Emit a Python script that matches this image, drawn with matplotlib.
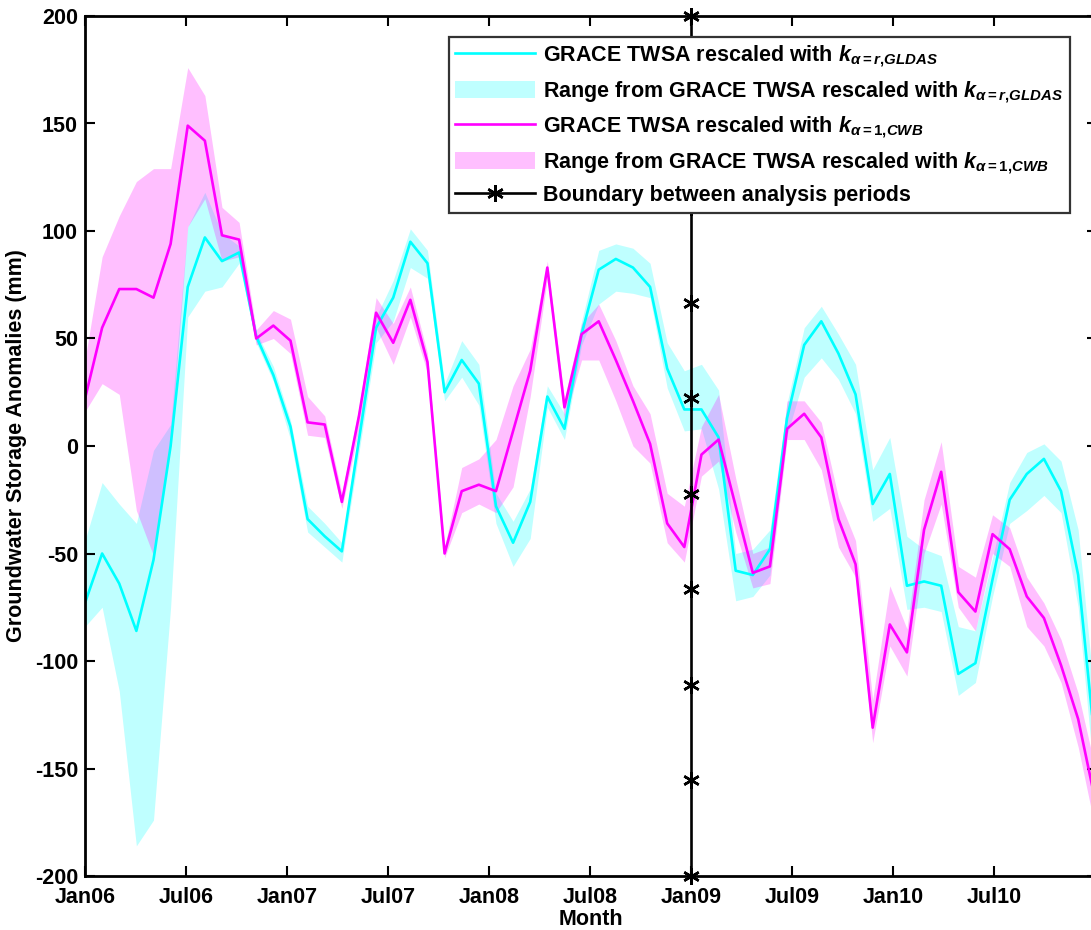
import numpy as np
import matplotlib.pyplot as plt

plt.rcParams['font.family'] = ['Liberation Sans', 'DejaVu Sans']
plt.rcParams['font.weight'] = 'bold'
plt.rcParams['axes.unicode_minus'] = False
plt.rcParams['mathtext.fontset'] = 'custom'
plt.rcParams['mathtext.it'] = 'Liberation Sans:bold:italic'
plt.rcParams['mathtext.rm'] = 'Liberation Sans:bold'
plt.rcParams['mathtext.bf'] = 'Liberation Sans:bold'

#%% data (monthly, Jan06 onwards)
tick_labels = ['Jan06', 'Jul06', 'Jan07', 'Jul07', 'Jan08',
               'Jul08', 'Jan09', 'Jul09', 'Jan10', 'Jul10']

gldas = [-73, -50, -64, -86, -53, 0, 74, 97, 86, 90,
         51, 33, 9, -34, -42, -49, 3, 55, 69, 95,
         85, 25, 40, 29, -28, -45, -26, 23, 8, 52,
         82, 87, 83, 74, 36, 17, 17, 4, -58, -60,
         -48, 13, 47, 58, 43, 24, -27, -13, -65, -63,
         -65, -106, -101, -62, -25, -13, -6, -21, -60, -140]
gldas_hi = [-44, -17, -27, -36, -2, 10, 102, 118, 99, 93,
            53, 37, 12, -28, -36, -45, 8, 60, 77, 101,
            91, 29, 49, 38, -22, -35, -20, 28, 15, 58,
            91, 94, 92, 85, 48, 35, 38, 26, -50, -48,
            -39, 20, 55, 65, 52, 38, -11, 4, -42, -48,
            -51, -84, -86, -52, -17, -3, 1, -7, -39, -120]
gldas_lo = [-84, -75, -114, -186, -174, -75, 60, 72, 74, 85,
            48, 30, 3, -40, -47, -54, -3, 48, 58, 83,
            78, 21, 32, 19, -36, -56, -43, 18, 3, 47,
            66, 72, 71, 69, 27, 7, 8, -20, -72, -70,
            -60, 5, 32, 41, 31, 15, -35, -29, -76, -75,
            -77, -116, -110, -70, -36, -30, -23, -31, -75, -160]

cwb = [22, 55, 73, 73, 69, 94, 149, 142, 98, 96,
       50, 56, 49, 11, 10, -26, 14, 62, 48, 68,
       39, -50, -21, -18, -21, 7, 35, 83, 18, 52,
       58, 40, 21, 1, -36, -47, -4, 3, -28, -59,
       -56, 8, 15, 4, -34, -55, -131, -83, -96, -39,
       -12, -68, -77, -41, -48, -70, -80, -102, -127, -165]
cwb_hi = [40, 88, 107, 123, 129, 129, 176, 163, 111, 104,
          54, 63, 59, 23, 14, -22, 18, 69, 57, 74,
          43, -47, -10, -6, 3, 28, 45, 86, 22, 57,
          66, 49, 28, 15, -22, -28, 9, 24, -15, -50,
          -47, 21, 21, 11, -24, -44, -118, -65, -85, -25,
          2, -56, -61, -32, -38, -61, -73, -90, -115, -150]
cwb_lo = [16, 29, 24, -30, -51, 0, 102, 115, 86, 88,
          47, 50, 43, 5, 4, -29, 8, 55, 38, 60,
          34, -52, -31, -27, -31, -19, 23, 78, 12, 40,
          40, 21, 0, -8, -45, -54, -14, -7, -40, -66,
          -64, 3, 3, -11, -47, -61, -138, -93, -107, -50,
          -27, -75, -86, -50, -56, -84, -93, -110, -140, -178]

tick_step = 5.9          # axis units per half year
boundary_x = 6 * tick_step
boundary_y = np.linspace(-200, 200, 10)

#%%
t = np.arange(len(gldas))

fig = plt.figure(figsize=(10.91, 9.30), dpi=100)
ax = fig.add_axes([85/1091, 54/930, 1012/1091, 860/930])

ax.fill_between(t, gldas_lo, gldas_hi, color='#00ffff', alpha=0.25, lw=0,
                label=r'Range from GRACE TWSA rescaled with $k_{\alpha=r{,}GLDAS}$', zorder=1)
ax.fill_between(t, cwb_lo, cwb_hi, color='#ff00ff', alpha=0.25, lw=0,
                label=r'Range from GRACE TWSA rescaled with $k_{\alpha=1{,}CWB}$', zorder=1)
ax.plot(t, gldas, color='#00ffff', lw=1.9,
        label=r'GRACE TWSA rescaled with $k_{\alpha=r{,}GLDAS}$', zorder=2)
ax.plot(t, cwb, color='#ff00ff', lw=1.9,
        label=r'GRACE TWSA rescaled with $k_{\alpha=1{,}CWB}$', zorder=2)
ax.plot(np.full(len(boundary_y), boundary_x), boundary_y, color='k', lw=1.9,
        marker=(6, 2, 0), ms=12, mew=1.8, clip_on=False,
        label='Boundary between analysis periods', zorder=3)

ax.set_xlim(0, 59.1)
ax.set_ylim(-200, 200)
ax.set_xticks(np.arange(len(tick_labels)) * tick_step)
ax.set_xticklabels(tick_labels)
ax.set_yticks(np.arange(-200, 201, 50))

ax.tick_params(direction='in', length=7, width=1.5, top=True, right=True,
               labelsize=15.5)
ax.tick_params(axis='y', pad=5)
ax.tick_params(axis='x', pad=8)
for s in ax.spines.values():
    s.set_linewidth(2)

ax.set_xlabel('Month', fontsize=15.5, fontweight='bold')
ax.set_ylabel('Groundwater Storage Anomalies (mm)', fontsize=15.5, fontweight='bold')
ax.xaxis.set_label_coords(0.5, -0.038)
ax.yaxis.set_label_coords(-0.057, 0.5)

h, l = ax.get_legend_handles_labels()
order = [2, 0, 3, 1, 4]
leg = ax.legend([h[i] for i in order], [l[i] for i in order],
                loc='upper left', bbox_to_anchor=(0.3597, 0.9756), borderaxespad=0,
                fontsize=15.5, handlelength=3.7, handleheight=0.85, handletextpad=0.35,
                labelspacing=0.45, fancybox=False, framealpha=1, borderpad=0.3)
leg.get_frame().set_edgecolor('#333333')
leg.get_frame().set_linewidth(1.6)

fig.savefig('out.png', dpi=100)
